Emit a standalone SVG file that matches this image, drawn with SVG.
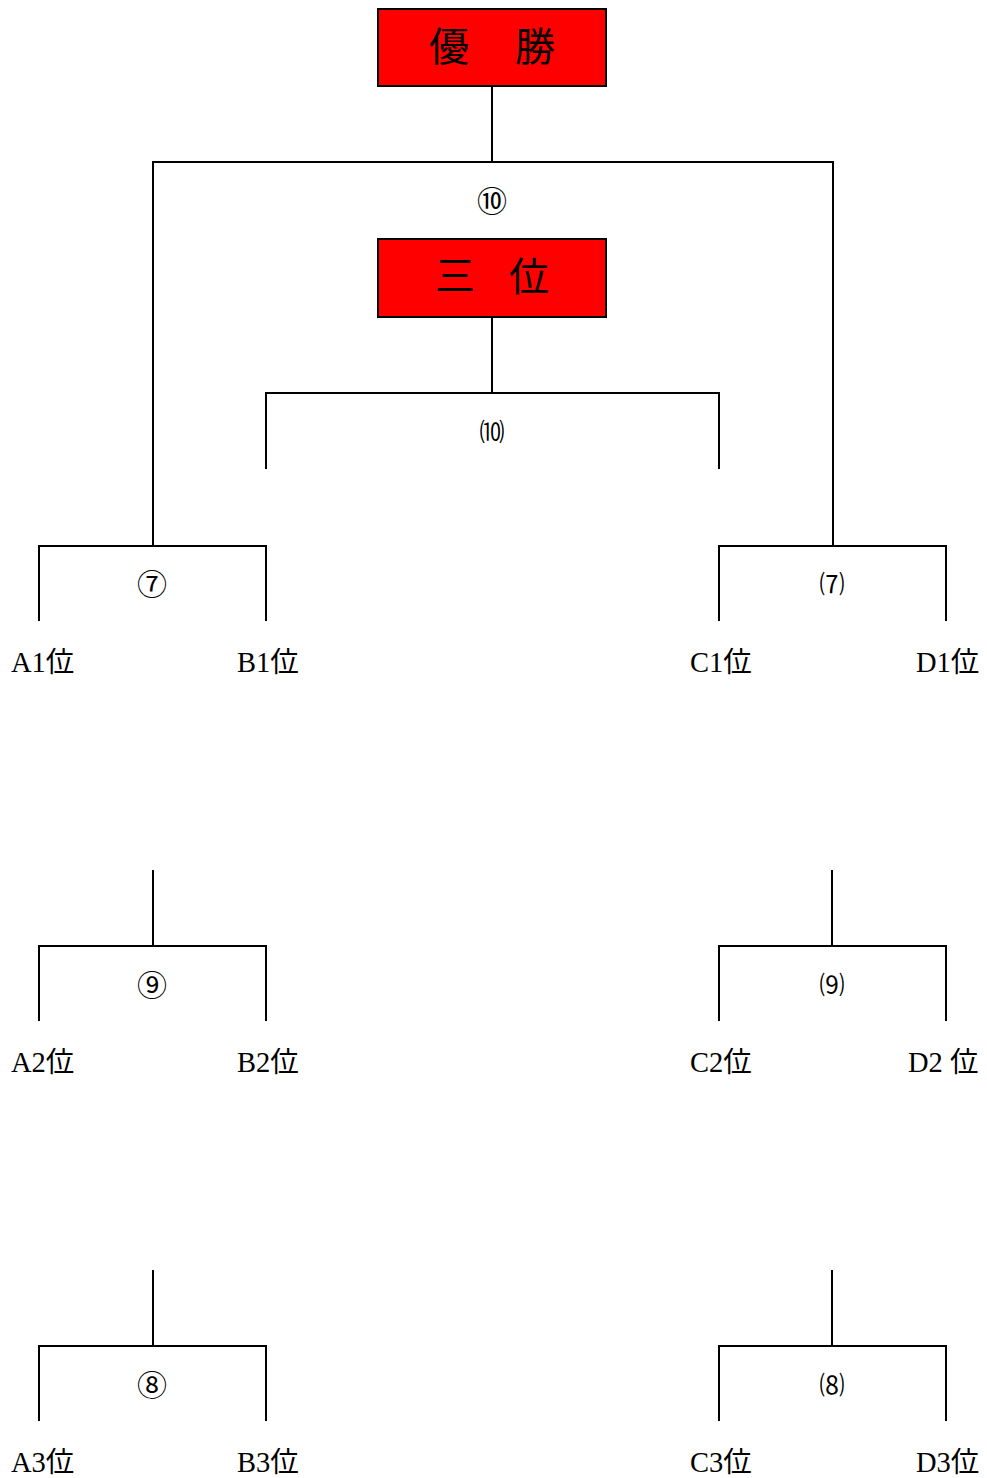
<svg xmlns="http://www.w3.org/2000/svg" width="987" height="1478" viewBox="0 0 987 1478">
<style>
.ln{fill:none;stroke:#000;stroke-width:2}
.box{fill:#ff0000;stroke:#000;stroke-width:2}
.bt{font-family:"Liberation Serif","Noto Sans CJK JP",serif;font-size:40px;fill:#000;text-anchor:middle}
.num{font-family:"Liberation Serif","Noto Sans CJK JP",serif;font-size:25px;fill:#000;text-anchor:middle;dominant-baseline:central}
.cn{font-size:30px}
.lb{font-family:"Liberation Serif","Noto Sans CJK JP",serif;font-size:28.5px;fill:#000}
</style>
<rect width="987" height="1478" fill="#fff"/>
<g id="connectors">
<path class="ln" d="M492 86V162M153 546V162H833V546"/>
<path class="ln" d="M492 317V393M266 469V393H719V469"/>
<path class="ln" d="M39 621V546H266V621"/>
<path class="ln" d="M719 621V546H946V621"/>
<path class="ln" d="M153 870V946M39 1021V946H266V1021"/>
<path class="ln" d="M832 870V946M719 1021V946H946V1021"/>
<path class="ln" d="M153 1270V1346M39 1421V1346H266V1421"/>
<path class="ln" d="M832 1270V1346M719 1421V1346H946V1421"/>
</g>
<g id="champion">
<rect class="box" x="378" y="9" width="228" height="77"/>
<text class="bt" x="449" y="61">優</text>
<text class="bt" x="535" y="61">勝</text>
</g>
<g id="third">
<rect class="box" x="378" y="239" width="228" height="78"/>
<text class="bt" x="455" y="290" font-size="34">三</text>
<text class="bt" x="529" y="291" font-size="35">位</text>
</g>
<g id="match-numbers">
<text class="num cn" x="492" y="201">⑩</text>
<text class="num" x="492" y="432">⑽</text>
<text class="num cn" x="152" y="584">⑦</text>
<text class="num" x="832" y="584">⑺</text>
<text class="num cn" x="152" y="985">⑨</text>
<text class="num" x="832" y="985">⑼</text>
<text class="num cn" x="152" y="1385">⑧</text>
<text class="num" x="832" y="1385">⑻</text>
</g>
<g id="teams">
<text class="lb" x="11" y="672">A1位</text>
<text class="lb" x="237" y="672">B1位</text>
<text class="lb" x="690" y="672">C1位</text>
<text class="lb" x="916" y="672">D1位</text>
<text class="lb" x="11" y="1072">A2位</text>
<text class="lb" x="237" y="1072">B2位</text>
<text class="lb" x="690" y="1072">C2位</text>
<text class="lb" x="908" y="1072">D2 位</text>
<text class="lb" x="11" y="1472">A3位</text>
<text class="lb" x="237" y="1472">B3位</text>
<text class="lb" x="690" y="1472">C3位</text>
<text class="lb" x="916" y="1472">D3位</text>
</g>
</svg>
